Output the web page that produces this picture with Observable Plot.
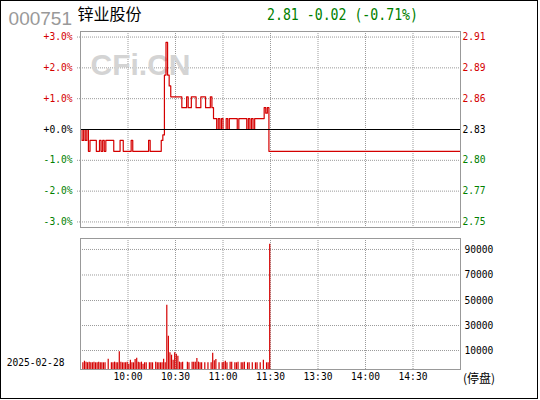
<!DOCTYPE html>
<html>
<head>
<meta charset="utf-8">
<script src="https://cdn.jsdelivr.net/npm/d3@7"></script>
<script src="https://cdn.jsdelivr.net/npm/@observablehq/plot@0.6"></script>
<style>
  body { margin: 0; background: #fff; }
  #wrap { position: relative; width: 540px; height: 400px; overflow: hidden; background: #fff; }
  #frameBox { position: absolute; left: 0; top: 0; width: 536px; height: 397px; border: 1px solid #000; pointer-events: none; }
  .abs { position: absolute; white-space: nowrap; }
  #code { left: 8.6px; top: 8.7px; font: 19px/19px "Liberation Sans", Arial, sans-serif; color: #999; }
  #name { left: 77.5px; top: 5px; font: 16px/16px "Noto Sans CJK SC", sans-serif; color: #000; }
  #quote { left: 267px; top: 7.2px; font: 16px/16px "DejaVu Sans Mono", monospace; color: #008000; transform: scaleX(0.825); transform-origin: left top; }
  #date { left: 6.7px; top: 358px; font: 9.6px/9.6px "DejaVu Sans Mono", monospace; color: #000; }
  #halt { left: 463px; top: 372.4px; font: 12px/12px "Noto Sans CJK SC", sans-serif; color: #000; }
  #p1 { position: absolute; left: 0; top: 0; }
  #p2 { position: absolute; left: 0; top: 232px; }
</style>
</head>
<body>
<div id="wrap">
  <div id="p1"></div>
  <div id="p2"></div>
  <div class="abs" id="code">000751</div>
  <div class="abs" id="name">锌业股份</div>
  <div class="abs" id="quote"></div>
  <div class="abs" id="date">2025-02-28</div>
  <div class="abs" id="halt">(停盘)</div>
  <div id="frameBox"></div>
</div>
<script>
// ---------- data ----------
const stockCode = "000751";
const tradeDate = "2025-02-28";
const prevClose = 2.83;
const sessionMinutes = 240;               // 9:30-11:30 + 13:00-15:00
const pctTicks = [-3, -2, -1, 0, 1, 2, 3];
const timeTickMinutes = [30, 60, 90, 120, 150, 180, 210];
const timeTickLabels = ["10:00", "10:30", "11:00", "11:30", "13:30", "14:00", "14:30"];
const volTickPos = [14200, 32900, 51600, 70700, 89800];
const volTickLabels = ["10000", "30000", "50000", "70000", "90000"];

// minute prices, 9:30 .. 11:30 (trading halted afterwards)
const morningPrice = [
  2.83, 2.82, 2.83, 2.82, 2.83, 2.81, 2.82, 2.82, 2.82, 2.82,
  2.81, 2.81, 2.82, 2.81, 2.82, 2.81, 2.82, 2.82, 2.82, 2.82,
  2.82, 2.81, 2.81, 2.81, 2.81, 2.82, 2.82, 2.81, 2.81, 2.81,
  2.81, 2.81, 2.82, 2.81, 2.81, 2.81, 2.81, 2.81, 2.81, 2.81,
  2.81, 2.81, 2.81, 2.82, 2.81, 2.81, 2.81, 2.81, 2.81, 2.81,
  2.81, 2.82, 2.825, 2.88, 2.91, 2.88, 2.87, 2.86, 2.86, 2.86,
  2.86, 2.86, 2.86, 2.86, 2.85, 2.85, 2.85, 2.86, 2.85, 2.85,
  2.86, 2.86, 2.86, 2.85, 2.85, 2.85, 2.86, 2.86, 2.86, 2.85,
  2.85, 2.85, 2.86, 2.85, 2.84, 2.84, 2.83, 2.84, 2.83, 2.84,
  2.83, 2.83, 2.84, 2.83, 2.84, 2.84, 2.84, 2.84, 2.84, 2.83,
  2.84, 2.84, 2.84, 2.84, 2.84, 2.83, 2.84, 2.83, 2.84, 2.83,
  2.84, 2.84, 2.84, 2.84, 2.84, 2.84, 2.85, 2.845, 2.85, 2.81,
  2.81
];

// minute volumes, 9:30 .. 11:29
const minuteVolume = [
  0, 5000, 6200, 5500, 5000, 5500, 5000, 5000, 5500, 5000,
  5000, 5500, 5000, 5000, 5000, 5000, 0, 7700, 0, 5000,
  5000, 5500, 5000, 5000, 13200, 5500, 5000, 5000, 5000, 5500,
  4000, 7000, 5000, 5000, 7500, 8500, 5500, 5000, 5500, 4000,
  5000, 5000, 0, 5000, 5000, 5000, 0, 5500, 5000, 5000,
  5000, 5000, 7700, 5000, 48000, 24900, 12500, 10700, 7000, 12500,
  11500, 10000, 5500, 5000, 5500, 0, 0, 5500, 5000, 0,
  5500, 5500, 5500, 8200, 5500, 5000, 5000, 0, 5000, 0,
  5000, 0, 5000, 12200, 6500, 7500, 0, 5000, 0, 5000,
  5500, 6200, 5000, 0, 5500, 5500, 0, 5000, 5000, 5500,
  0, 5000, 5000, 5500, 0, 5000, 5000, 0, 5000, 0,
  5000, 5000, 0, 5000, 0, 7000, 0, 5000, 5000, 93700
];

// ---------- derived ----------
const RED = "#d40000", GREEN = "#008000", GRID = "#9a9a9a", BORDER = "#999";
const lastPrice = morningPrice[morningPrice.length - 1];
const change = lastPrice - prevClose;
const changePct = change / prevClose * 100;
const sign = v => (v > 0 ? "+" : "");
document.getElementById("quote").textContent =
  `${lastPrice.toFixed(2)} ${sign(change)}${change.toFixed(2)} (${sign(changePct)}${changePct.toFixed(2)}%)`;
document.getElementById("code").textContent = stockCode;
document.getElementById("date").textContent = tradeDate;

const priceRows = morningPrice.map((p, t) => ({t, p}));
const lineRows = priceRows.concat([{t: sessionMinutes, p: lastPrice}]);
const volRows = minuteVolume.map((v, t) => ({t, v})).filter(d => d.v > 0);

const tickPrice = k => prevClose * (1 + k / 100);
const upTicks = pctTicks.filter(k => k > 0).map(tickPrice);
const downTicks = pctTicks.filter(k => k < 0).map(tickPrice);
const flatTicks = [prevClose];
const pctLabel = p => {
  const k = Math.round((p / prevClose - 1) * 100);
  return (k < 0 ? "-" : "+") + Math.abs(k).toFixed(1) + "%";
};
const priceLabel = p => p.toFixed(2);
const span = 0.0318;

const baseStyle = {
  fontFamily: "'DejaVu Sans Mono', monospace",
  fontSize: "9.6px",
  background: "transparent",
  overflow: "visible"
};
const dotted = {stroke: GRID, strokeDasharray: "1,1"};

const p1 = Plot.plot({
  width: 540, height: 240,
  marginLeft: 80, marginRight: 80, marginTop: 31, marginBottom: 13,
  style: baseStyle,
  x: {domain: [0, sessionMinutes], axis: null, label: null},
  y: {domain: [prevClose * (1 - span), prevClose * (1 + span)], axis: null, label: null},
  marks: [
    Plot.ruleY(upTicks.concat(downTicks), dotted),
    Plot.ruleX(timeTickMinutes, dotted),
    Plot.text(["CFi.CN"], {
      text: d => d, frameAnchor: "top-left", textAnchor: "start", lineAnchor: "top",
      dx: 10, dy: 22, fontSize: 30, fontWeight: "bold",
      fontFamily: "'Liberation Sans', Arial, sans-serif", fill: "#d4d4d4"
    }),
    Plot.line(lineRows, {x: "t", y: "p", stroke: RED, strokeWidth: 1.2, curve: "step-after"}),
    Plot.ruleY(flatTicks, {stroke: "#000"}),
    Plot.frame({stroke: BORDER}),
    Plot.axisY(upTicks, {anchor: "left", tickSize: 4, tickPadding: 4, tickFormat: pctLabel, fill: RED, stroke: GRID, strokeDasharray: "1,1", label: null}),
    Plot.axisY(downTicks, {anchor: "left", tickSize: 4, tickPadding: 4, tickFormat: pctLabel, fill: GREEN, stroke: GRID, strokeDasharray: "1,1", label: null}),
    Plot.axisY(flatTicks, {anchor: "left", tickSize: 0, tickPadding: 8, tickFormat: pctLabel, fill: "#000", label: null}),
    Plot.axisY(upTicks, {anchor: "right", tickSize: 0, tickPadding: 2, tickFormat: priceLabel, fill: RED, label: null}),
    Plot.axisY(downTicks, {anchor: "right", tickSize: 0, tickPadding: 2, tickFormat: priceLabel, fill: GREEN, label: null}),
    Plot.axisY(flatTicks, {anchor: "right", tickSize: 0, tickPadding: 2, tickFormat: priceLabel, fill: "#000", label: null})
  ]
});
document.getElementById("p1").appendChild(p1);

const p2 = Plot.plot({
  width: 540, height: 168,
  marginLeft: 80, marginRight: 80, marginTop: 6, marginBottom: 31,
  style: baseStyle,
  x: {domain: [0, sessionMinutes], axis: null, label: null},
  y: {domain: [0, 98000], axis: null, label: null},
  marks: [
    Plot.ruleY(volTickPos, dotted),
    Plot.ruleX(timeTickMinutes, dotted),
    Plot.ruleX(volRows, {x: d => d.t + 0.5, y: "v", stroke: RED, strokeWidth: 1.2}),
    Plot.frame({stroke: BORDER}),
    Plot.axisY(volTickPos, {anchor: "right", tickSize: 0, tickPadding: 4,
      tickFormat: v => volTickLabels[volTickPos.indexOf(v)], fill: "#000", label: null}),
    Plot.axisX(timeTickMinutes, {anchor: "bottom", tickSize: 0, tickPadding: 4,
      tickFormat: m => timeTickLabels[timeTickMinutes.indexOf(m)], fill: "#000", label: null})
  ]
});
document.getElementById("p2").appendChild(p2);
</script>
</body>
</html>
